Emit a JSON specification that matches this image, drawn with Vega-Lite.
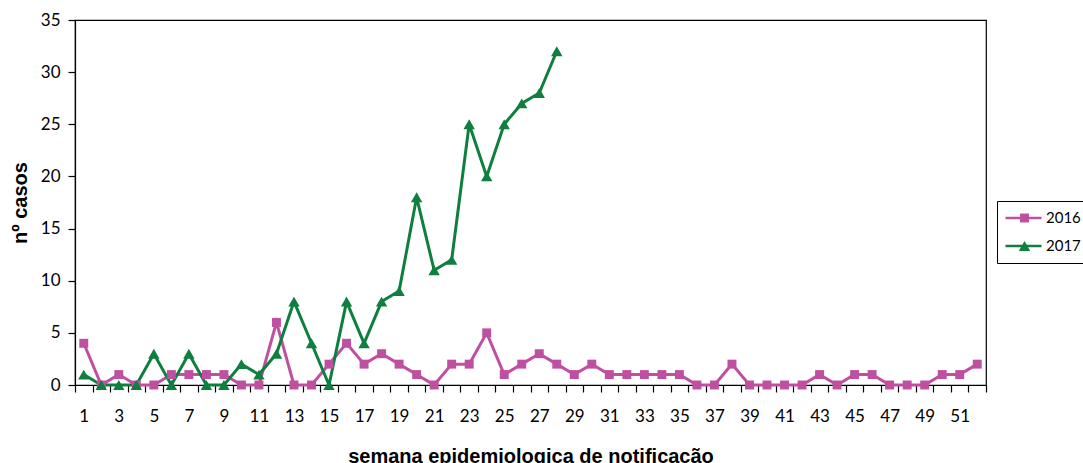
{
  "$schema": "https://vega.github.io/schema/vega-lite/v6.json",
  "width": 911,
  "height": 365,
  "autosize": {"type": "none"},
  "padding": {"left": 75, "top": 20, "right": 97, "bottom": 78},
  "background": "white",
  "config": {
    "font": "Liberation Sans",
    "view": {"stroke": "black", "strokeWidth": 1.2},
    "axis": {"labelFont": "Lato", "labelFontSize": 17, "labelColor": "black", "domainColor": "black", "domainWidth": 1.2, "tickColor": "black", "tickWidth": 1.2, "grid": false, "titleFont": "Liberation Sans", "titleFontWeight": "bold", "titleFontSize": 20, "titleColor": "black"}
  },
  "data": {"values": [
    {"semana": 1, "ano": "2016", "casos": 4}, {"semana": 2, "ano": "2016", "casos": 0}, {"semana": 3, "ano": "2016", "casos": 1}, {"semana": 4, "ano": "2016", "casos": 0},
    {"semana": 5, "ano": "2016", "casos": 0}, {"semana": 6, "ano": "2016", "casos": 1}, {"semana": 7, "ano": "2016", "casos": 1}, {"semana": 8, "ano": "2016", "casos": 1},
    {"semana": 9, "ano": "2016", "casos": 1}, {"semana": 10, "ano": "2016", "casos": 0}, {"semana": 11, "ano": "2016", "casos": 0}, {"semana": 12, "ano": "2016", "casos": 6},
    {"semana": 13, "ano": "2016", "casos": 0}, {"semana": 14, "ano": "2016", "casos": 0}, {"semana": 15, "ano": "2016", "casos": 2}, {"semana": 16, "ano": "2016", "casos": 4},
    {"semana": 17, "ano": "2016", "casos": 2}, {"semana": 18, "ano": "2016", "casos": 3}, {"semana": 19, "ano": "2016", "casos": 2}, {"semana": 20, "ano": "2016", "casos": 1},
    {"semana": 21, "ano": "2016", "casos": 0}, {"semana": 22, "ano": "2016", "casos": 2}, {"semana": 23, "ano": "2016", "casos": 2}, {"semana": 24, "ano": "2016", "casos": 5},
    {"semana": 25, "ano": "2016", "casos": 1}, {"semana": 26, "ano": "2016", "casos": 2}, {"semana": 27, "ano": "2016", "casos": 3}, {"semana": 28, "ano": "2016", "casos": 2},
    {"semana": 29, "ano": "2016", "casos": 1}, {"semana": 30, "ano": "2016", "casos": 2}, {"semana": 31, "ano": "2016", "casos": 1}, {"semana": 32, "ano": "2016", "casos": 1},
    {"semana": 33, "ano": "2016", "casos": 1}, {"semana": 34, "ano": "2016", "casos": 1}, {"semana": 35, "ano": "2016", "casos": 1}, {"semana": 36, "ano": "2016", "casos": 0},
    {"semana": 37, "ano": "2016", "casos": 0}, {"semana": 38, "ano": "2016", "casos": 2}, {"semana": 39, "ano": "2016", "casos": 0}, {"semana": 40, "ano": "2016", "casos": 0},
    {"semana": 41, "ano": "2016", "casos": 0}, {"semana": 42, "ano": "2016", "casos": 0}, {"semana": 43, "ano": "2016", "casos": 1}, {"semana": 44, "ano": "2016", "casos": 0},
    {"semana": 45, "ano": "2016", "casos": 1}, {"semana": 46, "ano": "2016", "casos": 1}, {"semana": 47, "ano": "2016", "casos": 0}, {"semana": 48, "ano": "2016", "casos": 0},
    {"semana": 49, "ano": "2016", "casos": 0}, {"semana": 50, "ano": "2016", "casos": 1}, {"semana": 51, "ano": "2016", "casos": 1}, {"semana": 52, "ano": "2016", "casos": 2},
    {"semana": 1, "ano": "2017", "casos": 1}, {"semana": 2, "ano": "2017", "casos": 0}, {"semana": 3, "ano": "2017", "casos": 0}, {"semana": 4, "ano": "2017", "casos": 0},
    {"semana": 5, "ano": "2017", "casos": 3}, {"semana": 6, "ano": "2017", "casos": 0}, {"semana": 7, "ano": "2017", "casos": 3}, {"semana": 8, "ano": "2017", "casos": 0},
    {"semana": 9, "ano": "2017", "casos": 0}, {"semana": 10, "ano": "2017", "casos": 2}, {"semana": 11, "ano": "2017", "casos": 1}, {"semana": 12, "ano": "2017", "casos": 3},
    {"semana": 13, "ano": "2017", "casos": 8}, {"semana": 14, "ano": "2017", "casos": 4}, {"semana": 15, "ano": "2017", "casos": 0}, {"semana": 16, "ano": "2017", "casos": 8},
    {"semana": 17, "ano": "2017", "casos": 4}, {"semana": 18, "ano": "2017", "casos": 8}, {"semana": 19, "ano": "2017", "casos": 9}, {"semana": 20, "ano": "2017", "casos": 18},
    {"semana": 21, "ano": "2017", "casos": 11}, {"semana": 22, "ano": "2017", "casos": 12}, {"semana": 23, "ano": "2017", "casos": 25}, {"semana": 24, "ano": "2017", "casos": 20},
    {"semana": 25, "ano": "2017", "casos": 25}, {"semana": 26, "ano": "2017", "casos": 27}, {"semana": 27, "ano": "2017", "casos": 28}, {"semana": 28, "ano": "2017", "casos": 32}
  ]},
  "encoding": {
    "x": {"field": "semana", "type": "ordinal", "sort": "ascending",
      "scale": {"paddingInner": 0, "paddingOuter": 0},
      "axis": {"title": "semana epidemiologica de notificação", "labelAngle": 0, "tickBand": "extent", "tickSize": 7, "labelPadding": 16,
        "labelExpr": "datum.value % 2 == 1 ? datum.label : ''", "titleY": 77, "titleBaseline": "alphabetic"}},
    "y": {"field": "casos", "type": "quantitative",
      "scale": {"domain": [0, 35]},
      "axis": {"title": "nº casos", "values": [0, 5, 10, 15, 20, 25, 30, 35], "tickSize": 7, "labelPadding": 8, "titleX": -55, "titleBaseline": "middle"}}
  },
  "layer": [
    {"mark": {"type": "line", "strokeWidth": 3},
     "encoding": {"color": {"field": "ano", "type": "nominal", "scale": {"domain": ["2016", "2017"], "range": ["#BF4FA0", "#0E7F3E"]},
       "legend": {"title": null, "orient": "none", "legendX": 922, "legendY": 181, "symbolType": "stroke", "symbolSize": 1296, "symbolStrokeWidth": 2.5, "clipHeight": 20, "rowPadding": 8, "padding": 7, "labelOffset": 3, "labelFontSize": 15, "labelFont": "Lato", "labelColor": "black", "strokeColor": "black"}}}},
    {"mark": {"type": "point", "filled": true, "opacity": 1},
     "encoding": {
       "color": {"field": "ano", "type": "nominal", "scale": {"domain": ["2016", "2017"], "range": ["#BF4FA0", "#0E7F3E"]},
         "legend": {"title": null, "orient": "none", "legendX": 922, "legendY": 181, "symbolSize": 90, "symbolOpacity": 1, "clipHeight": 20, "rowPadding": 8, "padding": 7, "symbolOffset": 13, "labelExpr": "''", "labelFontSize": 15, "labelFont": "Lato"}},
       "shape": {"field": "ano", "type": "nominal", "scale": {"domain": ["2016", "2017"], "range": ["square", "triangle-up"]},
         "legend": {"title": null, "orient": "none", "legendX": 922, "legendY": 181, "symbolSize": 90, "symbolOpacity": 1, "clipHeight": 20, "rowPadding": 8, "padding": 7, "symbolOffset": 13, "labelExpr": "''", "labelFontSize": 15, "labelFont": "Lato"}},
       "size": {"field": "ano", "type": "nominal", "scale": {"domain": ["2016", "2017"], "range": [80, 130]}, "legend": null}}}
  ],
  "resolve": {"scale": {"color": "independent", "shape": "independent", "size": "independent"}}
}
